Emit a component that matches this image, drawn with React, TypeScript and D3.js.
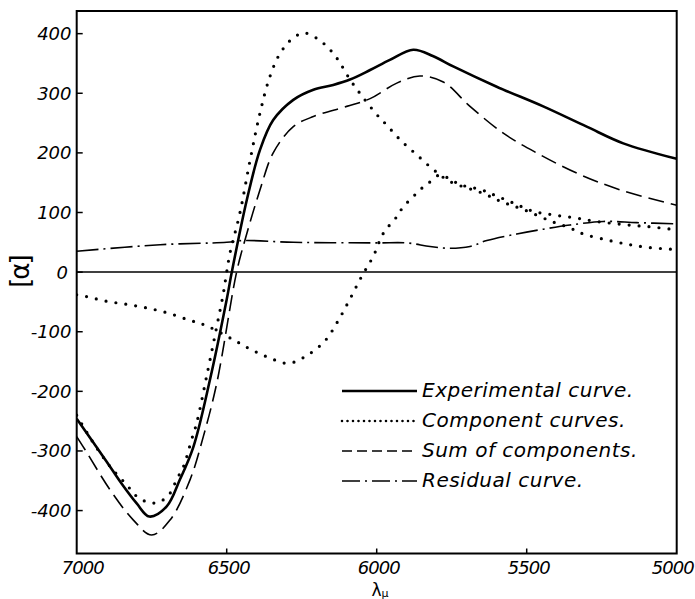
import React from "react";
import * as d3 from "d3";

// ---- data ----
const xTicks = [7000, 6500, 6000, 5500, 5000];
const yTicks = [400, 300, 200, 100, 0, -100, -200, -300, -400];

const lambdaExp = [7000, 6900, 6850, 6800, 6758, 6700, 6656, 6611, 6556, 6500, 6483, 6433, 6389, 6345, 6278, 6211, 6145, 6089, 6022, 5956, 5878, 5811, 5745, 5600, 5445, 5300, 5178, 5000];
const alphaExp = [-246, -318, -355, -388, -410, -393, -348, -293, -181, -46, 0, 121, 205, 255, 289, 306, 314, 323, 339, 356, 373, 362, 345, 311, 278, 244, 216, 190];

const lambdaSum = [7000, 6972, 6889, 6811, 6750, 6689, 6622, 6578, 6533, 6467, 6439, 6389, 6345, 6278, 6211, 6100, 6022, 5933, 5856, 5778, 5689, 5578, 5467, 5333, 5189, 5000];
const alphaSum = [-276, -298, -365, -416, -441, -416, -348, -276, -186, 0, 54, 138, 200, 244, 261, 278, 291, 317, 329, 319, 278, 233, 200, 166, 138, 112];

const lambdaC1 = [7000, 6950, 6889, 6833, 6800, 6756, 6722, 6689, 6667, 6644, 6617, 6600, 6567, 6533, 6511, 6500, 6489, 6456, 6422, 6389, 6356, 6322, 6278, 6239, 6178, 6133, 6089, 6044, 5994, 5967, 5922, 5867, 5811, 5756, 5650, 5583, 5511, 5422, 5356, 5311, 5233, 5156, 5089, 5000];
const alphaC1 = [-240, -282, -326, -357, -376, -387, -385, -371, -348, -326, -281, -253, -175, -91, -35, 0, 32, 99, 188, 267, 328, 367, 393, 401, 384, 359, 323, 292, 261, 247, 222, 197, 172, 152, 133, 118, 105, 86, 74, 64, 54, 46, 41, 38];

const lambdaC2 = [7000, 6967, 6900, 6833, 6767, 6700, 6628, 6567, 6483, 6422, 6361, 6295, 6233, 6172, 6128, 6089, 6050, 6011, 5978, 5933, 5911, 5883, 5856, 5828, 5789, 5750, 5717, 5650, 5611, 5545, 5478, 5411, 5339, 5267, 5161, 5089, 5000];
const alphaC2 = [-38, -41, -49, -54, -60, -68, -80, -90, -112, -129, -143, -153, -140, -115, -81, -45, -7, 27, 65, 93, 110, 124, 138, 149, 163, 154, 146, 138, 130, 116, 102, 96, 91, 85, 79, 76, 71];

const lambdaRes = [7000, 6722, 6500, 6444, 6278, 6000, 5900, 5822, 5756, 5689, 5633, 5533, 5445, 5356, 5245, 5133, 5000];
const alphaRes = [35, 46, 50, 53, 50, 49, 49, 43, 40, 43, 53, 64, 72, 79, 85, 83, 81];

const legendLabels = ["Experimental curve.", "Component curves.", "Sum of components.", "Residual curve."];

// ---- layout ----
const W = 695;
const H = 599;
const L = 76.7, R = 676.7, T = 11, B = 553.5;
const FONT = "'DejaVu Sans', sans-serif";

const x = d3.scaleLinear().domain([7000, 5000]).range([L, R]);
const y = d3.scaleLinear().domain([-472, 438]).range([B, T]);

const line = d3
  .line<[number, number]>()
  .x((d) => x(d[0]))
  .y((d) => y(d[1]))
  .curve(d3.curveCatmullRom.alpha(0.5));

const pts = (ls: number[], vs: number[]) => ls.map((l, i) => [l, vs[i]] as [number, number]);

const styles = {
  exp: { stroke: "#000", strokeWidth: 2.6, strokeDasharray: undefined as string | undefined, strokeLinecap: "butt" as const },
  comp: { stroke: "#000", strokeWidth: 3.2, strokeDasharray: "0 10", strokeLinecap: "round" as const },
  sum: { stroke: "#000", strokeWidth: 1.6, strokeDasharray: "16 7", strokeLinecap: "butt" as const },
  res: { stroke: "#000", strokeWidth: 1.6, strokeDasharray: "22 5 2 5", strokeLinecap: "butt" as const },
};

const legendStyles = [
  { stroke: "#000", strokeWidth: 2.6, strokeDasharray: undefined as string | undefined, strokeLinecap: "butt" as const },
  { stroke: "#000", strokeWidth: 2.6, strokeDasharray: "0 5.5", strokeLinecap: "round" as const },
  { stroke: "#000", strokeWidth: 1.6, strokeDasharray: "10 5", strokeLinecap: "butt" as const },
  { stroke: "#000", strokeWidth: 1.6, strokeDasharray: "18 5 2 5", strokeLinecap: "butt" as const },
];

export default function App() {
  const series = [
    { d: pts(lambdaRes, alphaRes), s: styles.res },
    { d: pts(lambdaSum, alphaSum), s: styles.sum },
    { d: pts(lambdaC1, alphaC1), s: styles.comp },
    { d: pts(lambdaC2, alphaC2), s: styles.comp },
    { d: pts(lambdaExp, alphaExp), s: styles.exp },
  ];
  const legendY0 = 391;
  const legendDy = 30;
  return (
    <svg
      width={W}
      height={H}
      viewBox={`0 0 ${W} ${H}`}
      style={{ position: "absolute", left: 0, top: 0, background: "#fff" }}
    >
      <rect x={0} y={0} width={W} height={H} fill="#fff" />
      <defs>
        <clipPath id="plotClip">
          <rect x={L} y={T} width={R - L} height={B - T} />
        </clipPath>
      </defs>

      {/* zero line */}
      <line x1={L} x2={R} y1={y(0)} y2={y(0)} stroke="#000" strokeWidth={1.5} />

      {/* curves */}
      <g clipPath="url(#plotClip)" fill="none">
        {series.map((sr, i) => (
          <path
            key={i}
            d={line(sr.d) || ""}
            stroke={sr.s.stroke}
            strokeWidth={sr.s.strokeWidth}
            strokeDasharray={sr.s.strokeDasharray}
            strokeLinecap={sr.s.strokeLinecap}
            strokeLinejoin="round"
          />
        ))}
      </g>

      {/* frame */}
      <rect x={L} y={T} width={R - L} height={B - T} fill="none" stroke="#000" strokeWidth={2} />

      {/* y ticks */}
      {yTicks.map((t) => (
        <g key={t}>
          <line x1={L} x2={L + 6} y1={y(t)} y2={y(t)} stroke="#000" strokeWidth={1.5} />
          <text
            x={t === 0 ? 68 : 71.5}
            y={y(t)}
            dy="0.36em"
            textAnchor="end"
            fontFamily={FONT}
            fontStyle="italic"
            fontSize={18}
            fill="#000"
          >
            {t < 0 ? "-" + Math.abs(t) : String(t)}
          </text>
        </g>
      ))}

      {/* x ticks */}
      {xTicks.map((t, i) => (
        <g key={t}>
          {i > 0 && i < xTicks.length - 1 && (
            <line x1={x(t)} x2={x(t)} y1={B} y2={B - 5} stroke="#000" strokeWidth={1.5} />
          )}
          <text
            x={x(t) + (i === 0 ? 6 : i === xTicks.length - 1 ? -4 : 2)}
            y={574}
            textAnchor="middle"
            fontFamily={FONT}
            fontStyle="italic"
            fontSize={18}
            letterSpacing={-1}
            fill="#000"
          >
            {String(t)}
          </text>
        </g>
      ))}

      {/* axis titles */}
      <text
        transform={`translate(29, ${y(0)}) rotate(-90)`}
        textAnchor="middle"
        fontFamily={FONT}
        fontSize={26}
        letterSpacing={-2}
        fill="#000"
      >
        [α]
      </text>
      <text x={380} y={596} textAnchor="middle" fontFamily={FONT} fontSize={17} fill="#000">
        λ<tspan fontSize={11} dy={1}>μ</tspan>
      </text>

      {/* legend */}
      {legendLabels.map((lab, i) => {
        const ly = legendY0 + i * legendDy;
        const st = legendStyles[i];
        return (
          <g key={lab}>
            <line
              x1={342}
              x2={417}
              y1={ly}
              y2={ly}
              stroke={st.stroke}
              strokeWidth={st.strokeWidth}
              strokeDasharray={st.strokeDasharray}
              strokeLinecap={st.strokeLinecap}
            />
            <text
              x={422}
              y={ly + 6}
              fontFamily={FONT}
              fontStyle="italic"
              fontSize={20}
              letterSpacing={0.5}
              fill="#000"
            >
              {lab}
            </text>
          </g>
        );
      })}
    </svg>
  );
}
